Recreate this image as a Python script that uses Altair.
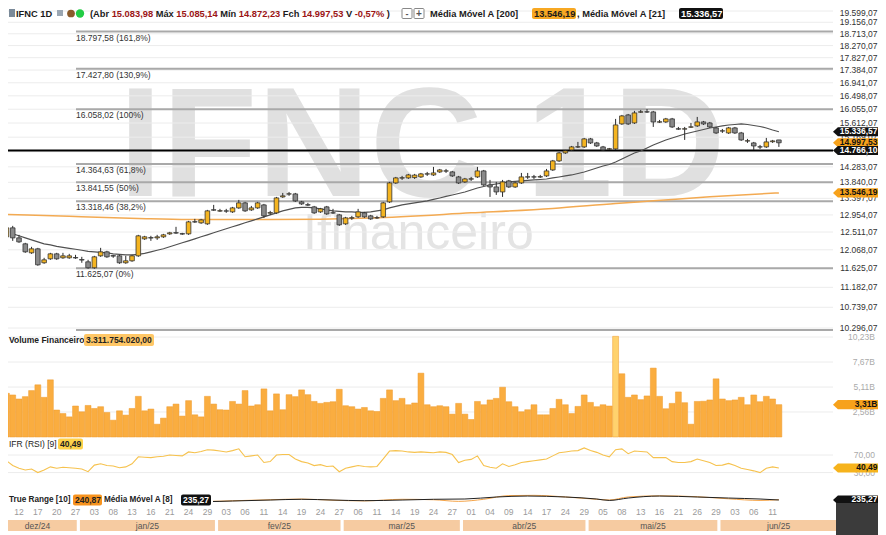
import altair as alt
import pandas as pd

# ======================= DATA =======================
FIRST_IDX = -2  # trading-day index of the first candle (idx 0 = 12 dez 2024)

opens = [12390, 12618, 12364, 12215, 11994, 12092, 11754, 11849, 11969, 11873,
         11873, 11880, 11830, 11777, 11636, 11921, 12018, 11925, 11921, 11754,
         11801, 11921, 12339, 12370, 12364, 12390, 12465, 12495, 12470, 12465,
         12775, 12747, 12721, 13090, 13055, 13060, 13034, 13140, 13274, 13087,
         13140, 13220, 13000, 13008, 13436, 13515, 13518, 13301, 13225, 13167,
         13034, 13167, 13010, 12955, 12721, 12870, 12903, 13008, 12929, 12880,
         12903, 13301, 13823, 13960, 13965, 13975, 13993, 14075, 14050, 14136,
         14160, 14136, 13993, 13852, 13930, 13993, 14164, 13767, 13711, 13573,
         13880, 13711, 13823, 13990, 13995, 13990, 14022, 14193, 14455, 14692,
         14781, 14870, 14872, 15116, 14993, 14872, 14805, 14811, 15583, 15870,
         15614, 15960, 15970, 15967, 15640, 15646, 15742, 15430, 15420, 15480,
         15520, 15646, 15614, 15457, 15360, 15300, 15457, 15300, 15050, 14993,
         14875, 14872, 15030, 15083.98]
highs = [12721, 12669, 12440, 12240, 12141, 12116, 11873, 11994, 11994, 11994,
         11969, 11945, 11897, 11825, 11921, 12116, 12043, 11945, 11945, 11921,
         11945, 12440, 12415, 12415, 12440, 12465, 12516, 12644, 12491, 12798,
         12850, 12850, 13087, 13220, 13114, 13114, 13167, 13355, 13301, 13193,
         13301, 13247, 13061, 13436, 13546, 13573, 13546, 13328, 13274, 13193,
         13140, 13193, 13114, 12981, 12903, 12929, 13114, 13034, 12955, 12929,
         13301, 13852, 13993, 14022, 14079, 14079, 14107, 14136, 14280, 14222,
         14222, 14164, 14022, 13965, 13993, 14280, 14193, 13908, 13852, 13908,
         13908, 13852, 14107, 14107, 14050, 14050, 14222, 14484, 14721, 14781,
         14902, 15024, 15146, 15146, 15024, 14902, 14841, 15742, 15870, 15902,
         16000, 16032, 16060, 16000, 15710, 15774, 15774, 15488, 15488, 15614,
         15806, 15678, 15646, 15488, 15425, 15488, 15488, 15332, 15116, 15024,
         14932, 15146, 15085, 15085.14]
lows = [12314, 12289, 12240, 11994, 11969, 11683, 11730, 11825, 11825, 11849,
        11849, 11849, 11754, 11612, 11612, 11897, 11873, 11873, 11730, 11730,
        11777, 11897, 12314, 12289, 12314, 12364, 12440, 12465, 12440, 12440,
        12747, 12721, 12695, 13061, 13034, 13008, 13008, 13114, 13034, 13061,
        13114, 12876, 12955, 12981, 13409, 13464, 13301, 13220, 13193, 12981,
        13008, 12955, 12981, 12669, 12695, 12824, 12876, 12876, 12824, 12850,
        12876, 13274, 13795, 13908, 13936, 13936, 13965, 14022, 14022, 14107,
        14107, 13993, 13795, 13823, 13880, 13965, 13739, 13436, 13491, 13436,
        13684, 13684, 13795, 13936, 13936, 13965, 13993, 14164, 14426, 14662,
        14751, 14841, 14841, 14963, 14872, 14751, 14781, 14781, 15551, 15551,
        15583, 15935, 15935, 15488, 15614, 15614, 15457, 15394, 15085, 15457,
        15488, 15551, 15457, 15269, 15300, 15269, 15269, 15054, 14993, 14781,
        14811, 14841, 14993, 14872.23]
closes = [12618, 12364, 12264, 12018, 12092, 11706, 11825, 11969, 11849, 11921,
          11921, 11870, 11820, 11636, 11897, 12018, 11897, 11915, 11754, 11801,
          11921, 12415, 12390, 12360, 12390, 12440, 12491, 12485, 12460, 12772,
          12770, 12824, 13061, 13080, 13065, 13055, 13140, 13274, 13061, 13140,
          13274, 12929, 13015, 13409, 13464, 13520, 13328, 13247, 13215, 13008,
          13114, 12981, 13005, 12695, 12876, 12880, 13034, 12903, 12850, 12875,
          13274, 13823, 13965, 13970, 14050, 14045, 14079, 14080, 14107, 14193,
          14165, 14022, 13823, 13936, 13940, 14164, 13767, 13711, 13573, 13852,
          13711, 13823, 13993, 13995, 13990, 14000, 14164, 14455, 14692, 14751,
          14872, 14875, 15116, 14993, 14902, 14781, 14815, 15551, 15838, 15583,
          15935, 15970, 15965, 15646, 15650, 15742, 15488, 15420, 15430, 15490,
          15646, 15583, 15488, 15300, 15365, 15457, 15300, 15085, 15060, 14902,
          14870, 15024, 15054, 14997.53]
# Volume Financeiro, billions
volumes = [4.47, 4.30, 3.89, 4.13, 4.75, 5.34, 4.06, 5.85, 2.76, 2.40,
           2.06, 3.17, 2.58, 3.23, 2.92, 3.10, 2.51, 1.72, 2.68, 2.24,
           2.92, 4.16, 2.68, 2.86, 1.31, 1.93, 3.10, 3.37, 2.14, 3.72,
           2.27, 2.06, 4.16, 3.37, 2.79, 2.76, 3.64, 3.37, 4.75, 3.17,
           3.30, 4.92, 2.68, 4.41, 2.79, 4.33, 4.13, 4.82, 4.33, 3.64,
           3.44, 3.54, 3.61, 4.88, 3.20, 3.10, 2.86, 3.02, 2.68, 2.61,
           3.95, 4.82, 3.72, 3.95, 3.30, 3.48, 6.53, 3.30, 3.10, 3.20,
           3.10, 2.34, 3.44, 2.34, 1.79, 3.64, 3.30, 3.79, 3.95, 5.09,
           3.61, 3.10, 2.58, 2.79, 3.30, 2.27, 2.27, 2.92, 3.85, 3.30,
           2.40, 3.13, 4.30, 3.54, 3.10, 3.30, 3.17, 10.30, 6.47, 4.06,
           4.30, 3.82, 4.20, 7.05, 4.16, 2.89, 3.44, 4.61, 3.51, 1.31,
           3.64, 3.66, 3.79, 5.95, 3.89, 3.72, 3.79, 4.06, 3.30, 4.30,
           3.61, 4.16, 3.89, 3.31]
rsi9 = [57, 46, 40, 36, 38, 30, 36, 43, 40, 42,
        41, 40, 38, 32, 47, 50, 46, 45, 41, 43,
        50, 66, 65, 64, 66, 67, 70, 69, 68, 77,
        75, 78, 82, 81, 79, 77, 80, 84, 66, 68,
        70, 53, 55, 70, 71, 71, 61, 55, 52, 46,
        48, 44, 45, 32, 40, 43, 46, 44, 43, 44,
        61, 79, 80, 79, 77, 76, 77, 76, 75, 77,
        76, 71, 53, 58, 60, 68, 46, 42, 40, 50,
        44, 48, 53, 55, 57, 59, 61, 68, 75, 77,
        79, 80, 86, 80, 76, 70, 66, 82, 84, 73,
        79, 78, 77, 64, 64, 64, 55, 53, 53, 55,
        61, 57, 53, 46, 47, 51, 46, 40, 37, 34,
        30, 40, 43, 40.49]
MA21_FIRST_IDX = -1
ma21 = [12465, 12415, 12364, 12314, 12264, 12215, 12190, 12153, 12128, 12104,
        12080, 12055, 12030, 12018, 12006, 11994, 11969, 11957, 11945, 11945,
        11957, 11981, 12018, 12055, 12092, 12141, 12190, 12240, 12289, 12339,
        12390, 12440, 12491, 12542, 12593, 12644, 12695, 12747, 12798, 12850,
        12903, 12955, 13008, 13061, 13101, 13140, 13153, 13153, 13140, 13114,
        13087, 13061, 13048, 13034, 13034, 13021, 13021, 13034, 13061, 13087,
        13140, 13180, 13220, 13247, 13274, 13301, 13328, 13369, 13409, 13450,
        13491, 13532, 13573, 13628, 13684, 13725, 13767, 13795, 13823, 13852,
        13866, 13880, 13894, 13908, 13922, 13936, 13965, 13993, 14022, 14050,
        14093, 14136, 14193, 14251, 14309, 14352, 14426, 14514, 14602, 14692,
        14751, 14841, 14932, 15009, 15085, 15146, 15207, 15269, 15316, 15363,
        15410, 15457, 15488, 15520, 15551, 15567, 15583, 15567, 15535, 15504,
        15457, 15394, 15336.57]
ma200_idx = [-2, 8, 19, 27, 40, 56, 72, 85, 95, 101, 110, 121]
ma200_val = [12968, 12916, 12863, 12837, 12835, 12876, 13008, 13127, 13260, 13330, 13440, 13546.19]
tr_ma8_idx = [-2, 5, 12, 20, 30, 34, 40, 45, 50, 55, 61, 66, 71, 76, 81, 87, 92, 94, 97, 102, 108, 113, 118, 121]
tr_ma8_val = [235, 240, 230, 220, 200, 213, 234, 250, 234, 220, 234, 250, 256, 299, 320, 299, 256, 225, 277, 320, 299, 277, 256, 235.27]
tr10_idx = [-2, 5, 12, 20, 30, 34, 40, 45, 50, 55, 61, 66, 70, 74, 78, 82, 87, 92, 94, 97, 102, 108, 113, 118, 121]
tr10_val = [245, 235, 225, 215, 205, 218, 240, 255, 230, 215, 250, 240, 205, 250, 330, 335, 300, 250, 235, 300, 325, 305, 260, 225, 240.87]

fib_values = [18797.58, 17427.80, 16058.02, 14364.63, 13841.55, 13318.46, 11625.07, 10255.27]
fib_labels = ["18.797,58 (161,8%)", "17.427,80 (130,9%)", "16.058,02 (100%)", "14.364,63 (61,8%)",
              "13.841,55 (50%)", "13.318,46 (38,2%)", "11.625,07 (0%)", ""]
price_ticks = [19599.07, 19156.07, 18713.07, 18270.07, 17827.07, 17384.07, 16941.07, 16498.07,
               16055.07, 15612.07, 15169.07, 14726.07, 14283.07, 13840.07, 13397.07, 12954.07,
               12511.07, 12068.07, 11625.07, 11182.07, 10739.07, 10296.07]
price_tick_labels = ["19.599,07", "19.156,07", "18.713,07", "18.270,07", "17.827,07", "17.384,07",
                     "16.941,07", "16.498,07", "16.055,07", "15.612,07", "15.169,07", "14.726,07",
                     "14.283,07", "13.840,07", "13.397,07", "12.954,07", "12.511,07", "12.068,07",
                     "11.625,07", "11.182,07", "10.739,07", "10.296,07"]
vol_ticks = [2.56, 5.11, 7.67, 10.23]
vol_tick_labels = ["2,56B", "5,11B", "7,67B", "10,23B"]
rsi_ticks = [30, 70]
rsi_tick_labels = ["30,00", "70,00"]
support_level = 14766.10
last_close = 14997.53
last_ma21 = 15336.57
last_ma200 = 13546.19
last_volume = 3.31
last_rsi = 40.49
last_tr_ma = 235.27

day_idx = [0, 3, 6, 9, 12, 15, 18, 21, 24, 27, 30, 33, 36, 39, 42, 45, 48, 51, 54, 57, 60,
           63, 66, 69, 72, 75, 78, 81, 84, 87, 90, 93, 96, 99, 102, 105, 108, 111, 114, 117, 120]
day_labels = ["12", "17", "20", "27", "03", "08", "13", "16", "21", "24", "29", "03", "06", "11",
              "14", "19", "24", "27", "06", "11", "14", "19", "24", "27", "01", "04", "09", "14",
              "17", "24", "29", "05", "08", "13", "16", "21", "26", "29", "03", "06", "11"]
month_labels = ["dez/24", "jan/25", "fev/25", "mar/25", "abr/25", "mai/25", "jun/25"]
month_first = [-2, 11, 33, 53, 72, 92, 113]
month_last = [10, 32, 52, 71, 91, 112, 131]

# ======================= LAYOUT =======================
OX, OY = 8, 8          # page margin (reference pixel -> canvas pixel)
W, H = 870, 527
PX = 6.28              # px per trading day
X_IDX0 = 19            # reference x of idx 0
FONT = "Liberation Sans"


def cx(r):
    return r - OX


def cy(r):
    return r - OY


XS = alt.Scale(domain=[(OX - X_IDX0) / PX, (W + OX - X_IDX0) / PX], range=[0, W],
               nice=False, zero=False, padding=0)
PS = alt.Scale(type="log", domain=[10296.07, 19599.07], range=[cy(328), cy(11)], nice=False)
VS = alt.Scale(domain=[0, 10.23], range=[cy(437), cy(337)], nice=False, zero=True)
RS = alt.Scale(domain=[30, 70], range=[cy(472.6), cy(455)], nice=False, zero=False)
TS = alt.Scale(domain=[170, 450], range=[cy(503), cy(490)], nice=False, zero=False)

ONE = pd.DataFrame({"z": [0]})


def xq(f="idx"):
    return alt.X(f + ":Q", scale=XS, axis=None)


def yq(f, s):
    return alt.Y(f + ":Q", scale=s, axis=None)


def T(text, rx, ry, size=8.5, color="#222", bold=False, align="left", baseline="middle", font=FONT):
    return alt.Chart(ONE).mark_text(text=text, fontSize=size, color=color,
                                    fontWeight="bold" if bold else "normal", align=align,
                                    baseline=baseline, font=font).encode(
        x=alt.value(cx(rx)), y=alt.value(cy(ry)))


def R(x1, x2, y1, y2, fill, stroke=None, sw=0, radius=0):
    kw = dict(fill=fill)
    if stroke:
        kw.update(stroke=stroke, strokeWidth=sw)
    if radius:
        kw["cornerRadius"] = radius
    return alt.Chart(ONE).mark_rect(**kw).encode(
        x=alt.value(cx(x1)), x2=alt.value(cx(x2)), y=alt.value(cy(y1)), y2=alt.value(cy(y2)))


AR = {**{d: .556 for d in "0123456789"}, ".": .278, ",": .278, " ": .278, "(": .333, ")": .333,
      "[": .333, "]": .333, "%": .889, "-": .333, "A": .722, "V": .667, "M": .833, "F": .611,
      "I": .278, "N": .722, "C": .722, "D": .722, "a": .556, "b": .611, "c": .556, "d": .611,
      "e": .556, "h": .611, "i": .278, "l": .278, "n": .611, "o": .611, "r": .389, "v": .556,
      "x": .556, "é": .556, "ó": .611, "á": .556, "í": .278}


def tw(s, size):
    return sum(AR.get(ch, .556) for ch in s) * size


BADGE = "M-1,0L-0.815,-0.172L1,-0.172L1,0.172L-0.815,0.172Z"


def axis_badge(value, scale, text, fill, tcolor):
    d = pd.DataFrame({"v": [value], "t": [text]})
    shp = alt.Chart(d).mark_point(shape=BADGE, size=53 * 53, filled=True, fill=fill, color=fill,
                                  opacity=1, strokeWidth=0).encode(x=alt.value(cx(859.5)), y=yq("v", scale))
    txt = alt.Chart(d).mark_text(align="right", baseline="middle", fontSize=8.5, fontWeight="bold",
                                 color=tcolor, font=FONT, dy=-0.5).encode(
        x=alt.value(cx(877.5)), y=yq("v", scale), text="t:N")
    return [shp, txt]


# ======================= DATAFRAMES =======================
n = len(opens)
cdf = pd.DataFrame({"idx": list(range(FIRST_IDX, FIRST_IDX + n)), "o": opens, "h": highs, "l": lows,
                    "c": closes, "v": volumes, "rsi": rsi9})
ma21_df = pd.DataFrame({"idx": list(range(MA21_FIRST_IDX, MA21_FIRST_IDX + len(ma21))), "p": ma21})
ma200_df = pd.DataFrame({"idx": ma200_idx, "p": ma200_val})
trm_df = pd.DataFrame({"idx": tr_ma8_idx, "t": tr_ma8_val})
tr_df = pd.DataFrame({"idx": tr10_idx, "t": tr10_val})
fib_df = pd.DataFrame({"p": fib_values, "lab": fib_labels})
ptick_df = pd.DataFrame({"p": price_ticks, "lab": price_tick_labels})
vtick_df = pd.DataFrame({"v": vol_ticks, "lab": vol_tick_labels})
rtick_df = pd.DataFrame({"v": rsi_ticks, "lab": rsi_tick_labels})
day_df = pd.DataFrame({"idx": day_idx, "lab": day_labels})
mon_df = pd.DataFrame({"s": [f - 1.3 for f in month_first], "e": [l - 0.8 for l in month_last],
                       "lab": month_labels})
mon_df["m"] = (mon_df["s"] + mon_df["e"]) / 2

L = []
# --- watermark ---
L.append(T("IFNC 1D", 422, 196, size=156, color="#e0e0e0", bold=True, align="center",
           baseline="alphabetic"))
L.append(T("Ifinanceiro", 303, 249, size=50, color="#e4e4e4", baseline="alphabetic"))

# --- grids ---
L.append(alt.Chart(ptick_df).mark_rule(color="#ececec", strokeWidth=1).encode(
    y=yq("p", PS), x=alt.value(0), x2=alt.value(cx(833))))
L.append(alt.Chart(vtick_df).mark_rule(color="#ececec", strokeWidth=1).encode(
    y=yq("v", VS), x=alt.value(0), x2=alt.value(cx(833))))
L.append(alt.Chart(rtick_df).mark_rule(color="#ececec", strokeWidth=1).encode(
    y=yq("v", RS), x=alt.value(0), x2=alt.value(cx(833))))

# --- fibonacci ---
L.append(alt.Chart(fib_df).mark_rule(color="#a9a9a9", strokeWidth=2).encode(
    y=yq("p", PS), x=alt.value(cx(76)), x2=alt.value(cx(833))))
L.append(alt.Chart(fib_df).mark_text(align="left", baseline="top", dy=2, fontSize=8.5, color="#333",
                                     font=FONT).encode(y=yq("p", PS), x=alt.value(cx(76)), text="lab:N"))
# --- support line ---
L.append(alt.Chart(pd.DataFrame({"p": [support_level]})).mark_rule(color="#000", strokeWidth=2).encode(
    y=yq("p", PS), x=alt.value(0), x2=alt.value(cx(833))))

# --- moving averages ---
L.append(alt.Chart(ma200_df).mark_line(color="#F3AA52", strokeWidth=1.5, interpolate="monotone").encode(
    x=xq(), y=yq("p", PS)))
L.append(alt.Chart(ma21_df).mark_line(color="#505050", strokeWidth=1.1).encode(x=xq(), y=yq("p", PS)))

# --- candles ---
L.append(alt.Chart(cdf).mark_rule(color="#2a2a2a", strokeWidth=1).encode(
    x=xq(), y=yq("l", PS), y2="h:Q"))
L.append(alt.Chart(cdf).mark_bar(size=4.6, stroke="#333", strokeWidth=0.8).encode(
    x=xq(), y=yq("o", PS), y2="c:Q",
    fill=alt.condition("datum.c >= datum.o", alt.value("#F4B420"), alt.value("#8a8a8a"))))

# --- volume ---
L.append(alt.Chart(cdf).mark_bar(size=5.9, stroke="#EE9A2C", strokeWidth=0.5).encode(
    x=xq(), y=yq("v", VS),
    fill=alt.condition("datum.v > 9", alt.value("#FFD26E"), alt.value("#FAAD40"))))

# --- RSI ---
L.append(alt.Chart(cdf).mark_line(color="#F6C24E", strokeWidth=1.1).encode(x=xq(), y=yq("rsi", RS)))

# --- True range ---
L.append(alt.Chart(tr_df).mark_line(color="#F5A54A", strokeWidth=1, interpolate="monotone").encode(
    x=xq(), y=yq("t", TS)))
L.append(alt.Chart(trm_df).mark_line(color="#222", strokeWidth=1, interpolate="monotone").encode(
    x=xq(), y=yq("t", TS)))

# --- right axis labels ---
L.append(alt.Chart(ptick_df.iloc[1:]).mark_text(align="right", baseline="middle", fontSize=8.5, color="#333",
                                                font=FONT).encode(y=yq("p", PS), x=alt.value(cx(877.5)), text="lab:N"))
L.append(alt.Chart(ptick_df.iloc[:1]).mark_text(align="right", baseline="middle", fontSize=8.5, color="#333",
                                                font=FONT, dy=2).encode(y=yq("p", PS), x=alt.value(cx(877.5)), text="lab:N"))
L.append(alt.Chart(vtick_df).mark_text(align="right", baseline="middle", fontSize=8.5, color="#aaa",
                                       font=FONT).encode(y=yq("v", VS), x=alt.value(cx(875)), text="lab:N"))
L.append(alt.Chart(rtick_df).mark_text(align="right", baseline="middle", fontSize=8.5, color="#aaa",
                                       font=FONT).encode(y=yq("v", RS), x=alt.value(cx(875)), text="lab:N"))

# --- axis badges ---
L += axis_badge(last_ma21, PS, "15.336,57", "#111111", "#ffffff")
L += axis_badge(last_close, PS, "14.997,53", "#F7A21B", "#111111")
L += axis_badge(support_level, PS, "14.766,10", "#111111", "#ffffff")
L += axis_badge(last_ma200, PS, "13.546,19", "#F7A21B", "#111111")
L += axis_badge(last_volume, VS, "3,31B", "#F7A21B", "#111111")
L += axis_badge(last_rsi, RS, "40,49", "#F6B31C", "#111111")
L += axis_badge(last_tr_ma, TS, "235,27", "#111111", "#ffffff")

# --- panel legends ---
L.append(T("Volume Financeiro", 9, 340, size=8.5, bold=True))
L.append(R(84, 154, 334, 346, "#FFC766", radius=2))
L.append(T("3.311.754.020,00", 86, 340, size=8.5, bold=True, color="#222"))
L.append(T("IFR (RSI) [9]", 9, 444, size=8.5))
L.append(R(58, 83, 438.5, 449.5, "#FFD24A", radius=2))
L.append(T("40,49", 60, 444, size=8.5, bold=True))
L.append(R(8, 213, 493, 507, "#ffffff"))
L.append(T("True Range [10]", 9, 500, size=8.2, bold=True))
L.append(R(73, 102, 494.5, 505.5, "#F7931E", radius=2))
L.append(T("240,87", 75, 500, size=8.5, bold=True))
L.append(T("Média Móvel A [8]", 104, 500, size=8.2, bold=True))
L.append(R(181, 211, 494.5, 505.5, "#111111", radius=2))
L.append(T("235,27", 183, 500, size=8.5, bold=True, color="#fff"))

# --- header ---
HY = 13.5
HS = 9.3
DARK, RED = "#1a1a1a", "#9b1414"
L.append(R(9, 15, 9, 17, "#7a8a99"))
L.append(T("IFNC 1D", 16, HY, size=HS, bold=True, color=DARK))
L.append(R(57, 63, 10, 16, "#9aa6b2"))
L.append(alt.Chart(ONE).mark_point(shape="circle", filled=True, size=60, color="#8a5a2b", opacity=1).encode(
    x=alt.value(cx(71)), y=alt.value(cy(HY))))
L.append(alt.Chart(ONE).mark_point(shape="circle", filled=True, size=70, color="#22cc44", opacity=1).encode(
    x=alt.value(cx(80)), y=alt.value(cy(HY))))
segs = [("(Abr ", DARK), ("15.083,98", RED), (" Máx ", DARK), ("15.085,14", RED), (" Mín ", DARK),
        ("14.872,23", RED), (" Fch ", DARK), ("14.997,53", RED), (" V ", DARK), ("-0,57%", RED), (" )", DARK)]
hx = 90
for s, col in segs:
    lead = len(s) - len(s.lstrip(" "))
    L.append(T(s.strip(), hx + tw(" " * lead, HS), HY, size=HS, bold=True, color=col))
    hx += tw(s, HS)
L.append(R(402, 412, 8.5, 18.5, "#ffffff", stroke="#888", sw=1, radius=1))
L.append(T("-", 407, HY, size=9, bold=True, color="#555", align="center"))
L.append(R(414, 424, 8.5, 18.5, "#ffffff", stroke="#888", sw=1, radius=1))
L.append(T("+", 419, HY, size=10, bold=True, color="#555", align="center"))
L.append(T("Média Móvel A [200]", 430, HY, size=HS, bold=True, color=DARK))
L.append(R(532, 576, 8, 19, "#F7A823", radius=2))
L.append(T("13.546,19", 534, HY, size=HS, bold=True, color=DARK))
L.append(T(", Média Móvel A [21]", 577, HY, size=HS, bold=True, color=DARK))
L.append(R(679, 723, 8, 19, "#111111", radius=2))
L.append(T("15.336,57", 681, HY, size=HS, bold=True, color="#fff"))

# --- date axis ---
L.append(alt.Chart(day_df).mark_text(baseline="middle", fontSize=8.5, color="#9a9a9a", font=FONT).encode(
    x=xq(), y=alt.value(cy(511.5)), text="lab:N"))
L.append(alt.Chart(mon_df).mark_rect(fill="#F6CBA1").encode(
    x=xq("s"), x2="e:Q", y=alt.value(cy(520)), y2=alt.value(cy(531))))
L.append(alt.Chart(mon_df).mark_text(baseline="middle", fontSize=8.5, color="#555", font=FONT).encode(
    x=xq("m"), y=alt.value(cy(525.5)), text="lab:N"))
L.append(R(836, 886, 503, 535, "#3b3b3b"))

chart = alt.layer(*L).resolve_scale(y="independent").properties(
    width=W, height=H, autosize=alt.AutoSizeParams(type="none"), padding=0,
    background="white").configure_view(stroke=None)

chart.save("out.html", embed_options={"renderer": "svg", "actions": False})
